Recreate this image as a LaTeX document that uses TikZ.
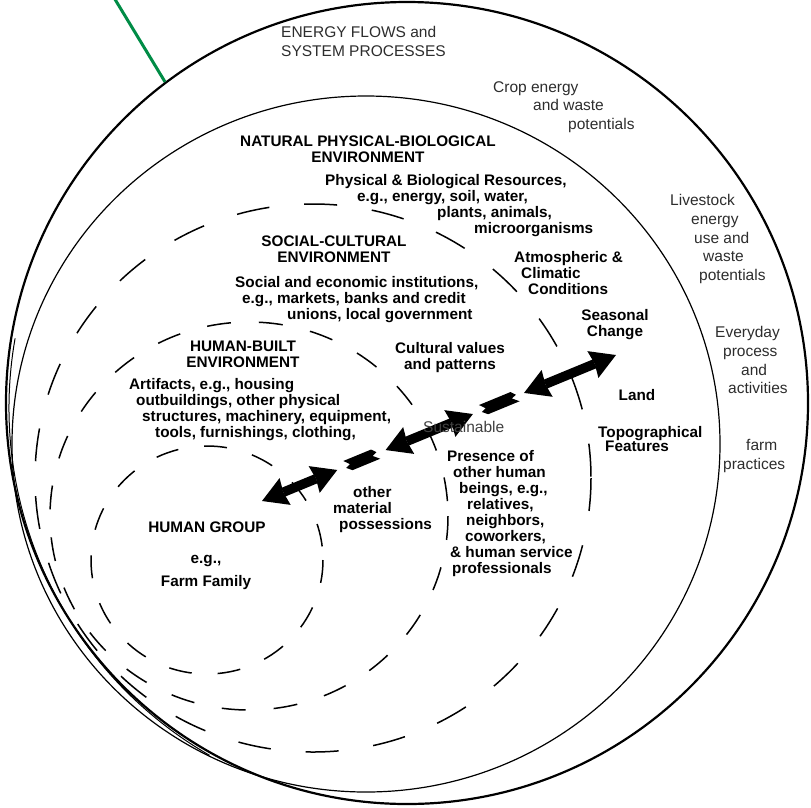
\documentclass[tikz,border=0pt]{standalone}
\usepackage{fontspec}
\setmainfont{Liberation Sans}
\usetikzlibrary{arrows.meta,calc}
\definecolor{frameGreen}{RGB}{0,140,70}
\definecolor{softText}{RGB}{45,45,45}
\begin{document}
\begin{tikzpicture}[x=1pt,y=-1pt,
  thintext/.style={font=\fontsize{15.5}{18.8}\selectfont, text=softText, inner sep=0pt, align=left},
  boldtext/.style={font=\bfseries\fontsize{15.3}{16}\selectfont, inner sep=0pt},
  dashring/.style={line width=1.5pt},
  bigarrow/.style={line width=9.5pt, {Stealth[length=25pt,width=29pt,inset=2pt,line width=0pt]}-{Stealth[length=25pt,width=29pt,inset=2pt,line width=0pt]}},
  shard/.style={fill=black},
  ]
\useasboundingbox (0,0) rectangle (811,807);
\clip (0,0) rectangle (811,807);

% outer boundary and green pointer
\node[circle, draw, line width=2.2pt, minimum size=802pt, inner sep=0pt] (outer) at (407,403) {};
\coordinate (gtop) at (113,-4);
\draw[frameGreen, line width=3pt] (gtop) -- (outer.127);

% natural environment boundary
\draw[line width=1.2pt] (366,444) ellipse [x radius=354, y radius=348];
\draw[line width=1pt] ($(410,408)+(190:401)$) arc[start angle=190, end angle=120, radius=401];

% dashed environments
\draw[dashring, dash pattern=on 33pt off 35pt] (313,478) ellipse [x radius=278, y radius=274];
\draw[dashring, dash pattern=on 24pt off 28pt] (249,516) ellipse [x radius=199, y radius=194];
\draw[dashring, dash pattern=on 23pt off 26pt] (207,560) ellipse [x radius=116, y radius=114];

% arrows
\coordinate (s) at (262,501);
\coordinate (e) at (616,355);
\coordinate (a1) at ($(s)!0.2126!(e)$);
\coordinate (p1) at ($(s)!0.2362!(e)$);
\coordinate (b0) at ($(s)!0.3491!(e)$);
\coordinate (b1) at ($(s)!0.5958!(e)$);
\coordinate (p2) at ($(s)!0.6194!(e)$);
\coordinate (c0) at ($(s)!0.7402!(e)$);
\draw[bigarrow] (s) -- (a1);
\draw[bigarrow] (b0) -- (b1);
\draw[bigarrow] (c0) -- (e);
\fill[shard, shift={(p1)}, rotate=22.4] (0,-6) -- (30,-6) -- (34,-1.5) -- (29,0.5) -- (35,6) -- (5,6) -- (0,1.5) -- (5,-0.5) -- cycle;
\fill[shard, shift={(p2)}, rotate=22.4] (0,-6) -- (34,-6) -- (38,-1.5) -- (33,0.5) -- (39,6) -- (5,6) -- (0,1.5) -- (5,-0.5) -- cycle;

% outer (plain) texts
\node[thintext, anchor=north west] (ef) at (281,26) {ENERGY FLOWS and\\SYSTEM PROCESSES};
\node[thintext, anchor=north west] (crop) at (493,81) {Crop energy\\\hspace*{40pt}and waste\\\hspace*{75pt}potentials};
\node[thintext, anchor=north west] (live) at (670,194) {Livestock\\\hspace*{21pt}energy\\\hspace*{24pt}use and\\\hspace*{33pt}waste\\\hspace*{29pt}potentials};
\node[thintext, anchor=north west] (everyday) at (715,326) {Everyday\\\hspace*{8pt}process\\\hspace*{26pt}and\\\hspace*{13pt}activities};
\node[thintext, anchor=north west] (farm) at (723,439) {\hspace*{23pt}farm\\practices};
\node[thintext, anchor=west, text=black!75] (sust) at (423,427) {Sustainable};

% bold texts
\node[boldtext, align=center] (nat) at (368,149) {NATURAL PHYSICAL-BIOLOGICAL\\ENVIRONMENT};
\node[boldtext, anchor=north west, align=left] (res) at (325,174) {Physical \& Biological Resources,\\\hspace*{32pt}e.g., energy, soil, water,\\\hspace*{112pt}plants, animals,\\\hspace*{149pt}microorganisms};
\node[boldtext, align=center] (soc) at (334,249) {SOCIAL-CULTURAL\\ENVIRONMENT};
\node[boldtext, anchor=north west, align=left] (inst) at (235,276) {Social and economic institutions,\\\hspace*{7pt}e.g., markets, banks and credit\\\hspace*{52pt}unions, local government};
\node[boldtext, anchor=north west, align=left] (atm) at (514,251) {Atmospheric \&\\\hspace*{7pt}Climatic\\\hspace*{14pt}Conditions};
\node[boldtext, align=center] (seas) at (615,325) {Seasonal\\Change};
\node[boldtext, align=center] (cult) at (450,358) {Cultural values\\and patterns};
\node[boldtext, align=center] (hbe) at (243,354) {HUMAN-BUILT\\ENVIRONMENT};
\node[boldtext, anchor=north west, align=left] (art) at (129,378) {Artifacts, e.g., housing\\\hspace*{7pt}outbuildings, other physical\\\hspace*{13pt}structures, machinery, equipment,\\\hspace*{26pt}tools, furnishings, clothing,};
\node[boldtext] (land) at (637,395) {Land};
\node[boldtext, anchor=north west, align=left] (topo) at (598,426) {Topographical\\[-1.5pt]\hspace*{7pt}Features};
\node[boldtext, anchor=north west, align=left] (pres) at (447,450) {Presence of\\\hspace*{6pt}other human\\\hspace*{12pt}beings, e.g.,\\\hspace*{20pt}relatives,\\\hspace*{19pt}neighbors,\\\hspace*{18pt}coworkers,\\\hspace*{3pt}\& human service\\\hspace*{5pt}professionals};
\node[boldtext, anchor=north west, align=left] (mat) at (333,486) {\hspace*{20pt}other\\material\\\hspace*{6pt}possessions};
\node[boldtext] (hg) at (207,527) {HUMAN GROUP};
\node[boldtext, align=center] (fam) at (206,572) {e.g.,\\[7pt]Farm Family};
\end{tikzpicture}
\end{document}
